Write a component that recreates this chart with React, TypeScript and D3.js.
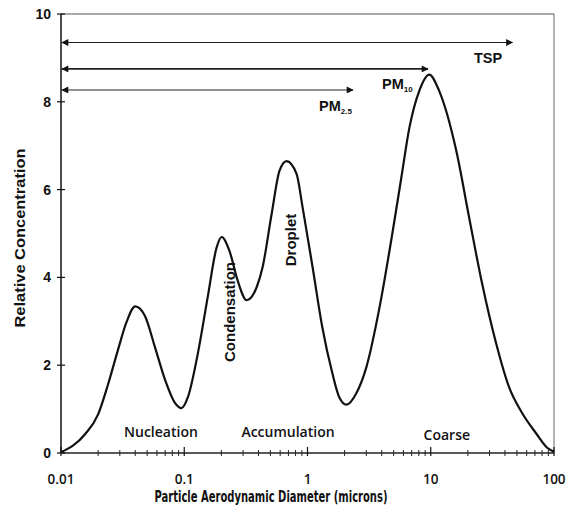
import React from "react";
import * as d3 from "d3";

const diameters = [0.01, 0.0156, 0.02, 0.024, 0.029, 0.034, 0.04, 0.048, 0.058, 0.07, 0.084, 0.095, 0.107, 0.129, 0.155, 0.183, 0.201, 0.233, 0.271, 0.321, 0.386, 0.432, 0.512, 0.593, 0.676, 0.815, 0.912, 1.1, 1.32, 1.59, 1.81, 2.07, 2.49, 3.0, 3.83, 4.88, 5.77, 6.7, 8.07, 9.73, 11.7, 16.1, 20.5, 26.1, 33.9, 43.2, 55.1, 71.5, 88, 100];
const concentrations = [0.02, 0.42, 0.88, 1.55, 2.35, 2.98, 3.34, 3.12, 2.4, 1.66, 1.14, 1.02, 1.27, 2.27, 3.55, 4.68, 4.92, 4.6, 3.93, 3.48, 3.77, 4.23, 5.45, 6.43, 6.65, 6.36, 5.6, 4.23, 2.86, 1.82, 1.27, 1.1, 1.36, 1.95, 3.3, 5.0, 6.27, 7.4, 8.25, 8.62, 8.25, 6.89, 5.36, 3.86, 2.5, 1.5, 0.91, 0.45, 0.12, 0.03];

const xTicks = [0.01, 0.1, 1, 10, 100];
const xTickLabels = ["0.01", "0.1", "1", "10", "100"];
const yTicks = [0, 2, 4, 6, 8, 10];

const sizeRanges = [
  { name: "TSP", level: 9.35, to: 46 },
  { name: "PM10", level: 8.75, to: 9.5 },
  { name: "PM2.5", level: 8.27, to: 2.34 },
];

const modes = ["Nucleation", "Accumulation", "Coarse"];
const modeAt = [0.0647, 0.695, 13.5];
const subModes = ["Condensation", "Droplet"];
const subModeAt = [0.235, 0.74];

export default function App() {
  const W = 574, H = 506;
  const left = 61, right = 554, top = 14, bottom = 453;
  const x = d3.scaleLog().domain([0.01, 100]).range([left, right]);
  const y = d3.scaleLinear().domain([0, 10]).range([bottom, top]);
  const pts = diameters.map((d, i) => [d, concentrations[i]] as [number, number]);
  const line = d3
    .line<[number, number]>()
    .x((d) => x(d[0]))
    .y((d) => y(d[1]))
    .curve(d3.curveMonotoneX);

  const minor: number[] = [];
  for (let e = -2; e < 2; e++) {
    for (let k = 2; k <= 9; k++) minor.push(k * Math.pow(10, e));
  }
  const bold = { fontFamily: "Liberation Sans, Arial, sans-serif", fontWeight: 700 };
  const tah = { fontFamily: "Open Sans, sans-serif", fontWeight: 600 };
  const narrow = { fontFamily: "Liberation Sans Narrow, DejaVu Sans Condensed, Open Sans, sans-serif", fontWeight: 700 };

  return (
    <svg width={W} height={H} style={{ position: "absolute", left: 0, top: 0 }}>
      <rect width={W} height={H} fill="#fff" />
      <defs>
        <marker id="ah" viewBox="0 0 10 10" refX="9" refY="5" markerWidth="9" markerHeight="7" markerUnits="userSpaceOnUse" orient="auto-start-reverse">
          <path d="M0,0 L10,5 L0,10 z" fill="#111" />
        </marker>
      </defs>
      {/* frame */}
      <line x1={left} x2={right} y1={top} y2={top} stroke="#555" strokeWidth={1.2} />
      <line x1={right} x2={right} y1={top} y2={bottom} stroke="#666" strokeWidth={1} />
      {/* axes */}
      <line x1={left} x2={left} y1={top} y2={bottom} stroke="#111" strokeWidth={1.5} />
      <line x1={left} x2={right} y1={bottom} y2={bottom} stroke="#222" strokeWidth={1.3} />
      {yTicks.map((t) => (
        <g key={t}>
          <line x1={left - 4} x2={left + 4} y1={y(t)} y2={y(t)} stroke="#111" strokeWidth={1.2} />
          <text x={left - 10} y={y(t) + 5} textAnchor="end" fontSize={14} {...bold} fill="#111">{t}</text>
        </g>
      ))}
      {minor.map((t, i) => (
        <line key={i} x1={x(t)} x2={x(t)} y1={bottom - 3} y2={bottom + 3} stroke="#222" strokeWidth={1} />
      ))}
      {xTicks.map((t, i) => (
        <g key={t}>
          <line x1={x(t)} x2={x(t)} y1={bottom - 6} y2={bottom + 3} stroke="#111" strokeWidth={1.2} />
          <text x={x(t)} y={bottom + 31} textAnchor="middle" fontSize={13.5} {...tah} fill="#111">{xTickLabels[i]}</text>
        </g>
      ))}
      <text x={271} y={502} textAnchor="middle" fontSize={15} {...narrow} fill="#111" textLength={233} lengthAdjust="spacingAndGlyphs">Particle Aerodynamic Diameter (microns)</text>
      <text transform={`translate(25,238) rotate(-90)`} textAnchor="middle" fontSize={15.5} {...bold} fill="#111" textLength={179} lengthAdjust="spacingAndGlyphs">Relative Concentration</text>

      {/* size range arrows */}
      {sizeRanges.map((r) => (
        <line key={r.name} x1={x(r.to)} x2={left + 1} y1={y(r.level)} y2={y(r.level)} stroke="#222" strokeWidth={r.name === "PM10" ? 1.6 : 1.1} markerStart="url(#ah)" markerEnd="url(#ah)" />
      ))}
      <text x={488} y={63} textAnchor="middle" fontSize={14.5} {...bold} fill="#111">TSP</text>
      <text x={382} y={89} fontSize={14.5} {...bold} fill="#111">PM<tspan fontSize={8} dy={3}>10</tspan></text>
      <text x={319} y={111} fontSize={14.5} {...bold} fill="#111">PM<tspan fontSize={8} dy={3}>2.5</tspan></text>

      {/* curve */}
      <path d={line(pts) || ""} fill="none" stroke="#111" strokeWidth={2.2} />

      {modes.map((m, i) => (
        <text key={m} x={x(modeAt[i])} y={i === 2 ? 440 : 437} textAnchor="middle" fontSize={14} {...tah} fill="#111">{m}</text>
      ))}
      {subModes.map((m, i) => (
        <text key={m} transform={`translate(${x(subModeAt[i]) + 5},${i === 0 ? 312 : 240}) rotate(-90)`} textAnchor="middle" fontSize={15} {...bold} fill="#111">{m}</text>
      ))}
    </svg>
  );
}
